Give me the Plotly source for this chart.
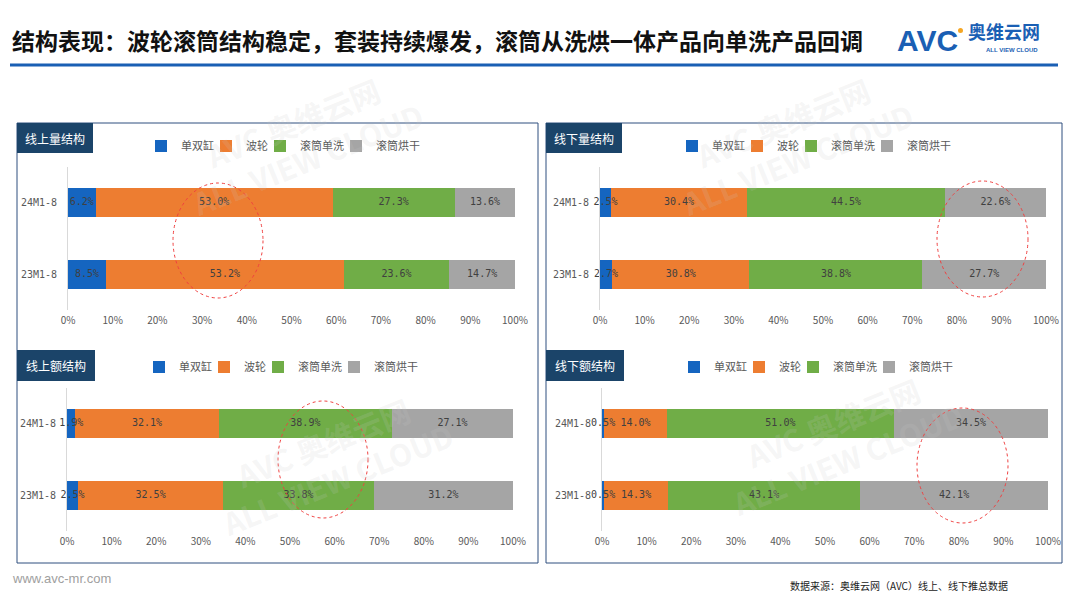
import plotly.graph_objects as go

W, H = 1080, 606

# ---------------- data ----------------
categories = ['23M1-8', '24M1-8']
series = ['单双缸', '波轮', '滚筒单洗', '滚筒烘干']
colors = ['#1565C0', '#ED7D31', '#70AD47', '#A5A5A5']

online_qty = {'单双缸': [8.5, 6.2], '波轮': [53.2, 53.0], '滚筒单洗': [23.6, 27.3], '滚筒烘干': [14.7, 13.6]}
offline_qty = {'单双缸': [2.7, 2.5], '波轮': [30.8, 30.4], '滚筒单洗': [38.8, 44.5], '滚筒烘干': [27.7, 22.6]}
online_amt = {'单双缸': [2.5, 1.9], '波轮': [32.5, 32.1], '滚筒单洗': [33.8, 38.9], '滚筒烘干': [31.2, 27.1]}
offline_amt = {'单双缸': [0.5, 0.5], '波轮': [14.3, 14.0], '滚筒单洗': [43.1, 51.0], '滚筒烘干': [42.1, 34.5]}

x_ticks = list(range(0, 101, 10))
x_tick_text = [f'{v}%' for v in x_ticks]
title_text = '结构表现：波轮滚筒结构稳定，套装持续爆发，滚筒从洗烘一体产品向单洗产品回调'
source_text = '数据来源：奥维云网（AVC）线上、线下推总数据'

# legend entry widths (px) per series, to tighten spacing
legend_widths = [20, 9, 31, 48]


def px(x):
    return x / W


def py(y):
    return 1 - y / H


# panel layout specs (pixels)
panels = [
    dict(title='线上量结构', data=online_qty, x0=68, x1=515, y0=167, y1=310, lx=285, ly=146,
         tab=(17, 123, 93, 153), ell=(173, 183, 263, 298)),
    dict(title='线下量结构', data=offline_qty, x0=600, x1=1046, y0=167, y1=310, lx=816, ly=146,
         tab=(546, 123, 622, 153), ell=(937, 181, 1028, 297)),
    dict(title='线上额结构', data=online_amt, x0=67, x1=513, y0=388, y1=531, lx=283, ly=367,
         tab=(17, 350, 95, 381), ell=(278, 401, 368, 518)),
    dict(title='线下额结构', data=offline_amt, x0=602, x1=1048, y0=388, y1=531, lx=818, ly=367,
         tab=(546, 350, 624, 381), ell=(917, 408, 1008, 523)),
]

fig = go.Figure()
shapes = []
annotations = []
layout = {}

for i, p in enumerate(panels):
    n = '' if i == 0 else str(i + 1)
    legname = 'legend' + n
    cum = [0.0] * len(categories)
    lab_x, lab_y, lab_t = [], [], []
    for s, c, lw in zip(series, colors, legend_widths):
        vals = p['data'][s]
        fig.add_trace(go.Bar(
            y=categories, x=vals, name=s, orientation='h',
            marker=dict(color=c, line=dict(width=0)),
            xaxis='x' + n, yaxis='y' + n, legend=legname, legendwidth=lw,
            hoverinfo='skip',
        ))
        for k, v in enumerate(vals):
            lab_x.append(cum[k] + v / 2)
            lab_y.append(categories[k])
            lab_t.append(f'{v:.1f}%')
            cum[k] += v
    fig.add_trace(go.Scatter(
        x=lab_x, y=lab_y, text=lab_t, mode='text', showlegend=False,
        xaxis='x' + n, yaxis='y' + n, cliponaxis=False, hoverinfo='skip',
        textfont=dict(family='DejaVu Sans Mono', size=10, color='#404040'),
    ))
    layout['xaxis' + n] = dict(
        domain=[px(p['x0']), px(p['x1'])], range=[0, 100], anchor='y' + n, automargin=False,
        tickvals=x_ticks, ticktext=x_tick_text, showgrid=False, zeroline=False, showline=False,
        ticks='', ticklabelstandoff=3,
        tickfont=dict(family='Noto Sans CJK SC', size=10, color='#595959'), fixedrange=True,
    )
    layout['yaxis' + n] = dict(
        domain=[py(p['y1']), py(p['y0'])], anchor='x' + n, type='category', automargin=False,
        categoryorder='array', categoryarray=categories, range=[-0.5, 1.5],
        showline=True, linecolor='#D9D9D9', linewidth=1, showgrid=False, zeroline=False,
        ticks='', ticklabelstandoff=8,
        tickfont=dict(family='DejaVu Sans Mono', size=10, color='#595959'), fixedrange=True,
    )
    layout[legname] = dict(
        orientation='h', x=px(p['lx']), y=py(p['ly']), xanchor='center', yanchor='middle',
        font=dict(family='Noto Sans CJK SC', size=11, color='#595959'),
        itemwidth=30, bgcolor='rgba(0,0,0,0)', traceorder='normal', itemclick=False,
        entrywidthmode='pixels',
    )
    # panel tab
    tx0, ty0, tx1, ty1 = p['tab']
    shapes.append(dict(type='rect', xref='paper', yref='paper', x0=px(tx0), x1=px(tx1),
                       y0=py(ty1), y1=py(ty0), fillcolor='#1B4469', line=dict(width=0), layer='above'))
    annotations.append(dict(text=p['title'], x=px((tx0 + tx1) / 2), y=py((ty0 + ty1) / 2),
                            xref='paper', yref='paper', showarrow=False,
                            xanchor='center', yanchor='middle',
                            font=dict(family='Noto Sans CJK SC', size=12, color='white')))
    # red dashed ellipse
    ex0, ey0, ex1, ey1 = p['ell']
    shapes.append(dict(type='circle', xref='paper', yref='paper', x0=px(ex0), x1=px(ex1),
                       y0=py(ey1), y1=py(ey0), line=dict(color='#F04040', width=1, dash='dot'),
                       layer='above'))

# column boxes
for bx0, bx1 in [(17, 538), (546, 1062)]:
    shapes.append(dict(type='rect', xref='paper', yref='paper', x0=px(bx0), x1=px(bx1),
                       y0=py(563), y1=py(123), line=dict(color='#2F4F7F', width=1),
                       fillcolor='rgba(0,0,0,0)', layer='below'))

# title rule
shapes.append(dict(type='line', xref='paper', yref='paper', x0=px(10), x1=px(1058),
                   y0=py(65), y1=py(65), line=dict(color='#1A5FB4', width=3)))

# title
annotations.append(dict(text='<b>' + title_text + '</b>', x=px(10), y=py(40), xref='paper', yref='paper',
                        xanchor='left', yanchor='middle', showarrow=False,
                        font=dict(family='Noto Sans CJK SC', size=23, color='#111111')))
# logo
annotations.append(dict(text='<b>AVC</b>', x=px(895), y=py(40), xref='paper', yref='paper',
                        xanchor='left', yanchor='middle', showarrow=False,
                        font=dict(family='Liberation Sans', size=30, color='#1A5FB4')))
annotations.append(dict(text='<b>奥维云网</b>', x=px(966), y=py(31), xref='paper', yref='paper',
                        xanchor='left', yanchor='middle', showarrow=False,
                        font=dict(family='Noto Sans CJK SC', size=18, color='#1A5FB4')))
annotations.append(dict(text='<b>ALL VIEW CLOUD</b>', x=px(984), y=py(50), xref='paper', yref='paper',
                        xanchor='left', yanchor='middle', showarrow=False,
                        font=dict(family='Liberation Sans', size=6, color='#1A5FB4')))
shapes.append(dict(type='circle', xref='paper', yref='paper', x0=px(958), x1=px(963),
                   y0=py(33), y1=py(28), fillcolor='#F5A623', line=dict(width=0)))

# footer
annotations.append(dict(text='www.avc-mr.com', x=px(10), y=py(578), xref='paper', yref='paper',
                        xanchor='left', yanchor='middle', showarrow=False,
                        font=dict(family='Liberation Sans', size=13, color='#A0A0A0')))
annotations.append(dict(text=source_text, x=px(1010), y=py(585), xref='paper', yref='paper',
                        xanchor='right', yanchor='middle', showarrow=False,
                        font=dict(family='Noto Sans CJK SC', size=10, color='#222222')))

# faint watermarks
for wx, wy in [(300, 140), (790, 140), (330, 460), (840, 440)]:
    annotations.append(dict(text='<b>AVC 奥维云网</b><br><b>ALL VIEW CLOUD</b>', x=px(wx), y=py(wy),
                            xref='paper', yref='paper', showarrow=False, textangle=-22,
                            xanchor='center', yanchor='middle',
                            font=dict(family='Noto Sans CJK SC', size=30, color='rgba(200,200,200,0.18)')))

fig.update_layout(
    width=W, height=H, margin=dict(l=0, r=0, t=0, b=0, autoexpand=False),
    paper_bgcolor='white', plot_bgcolor='rgba(0,0,0,0)',
    barmode='stack', bargap=0.6, shapes=shapes, annotations=annotations,
    **layout,
)

fig.write_html('out.html')
